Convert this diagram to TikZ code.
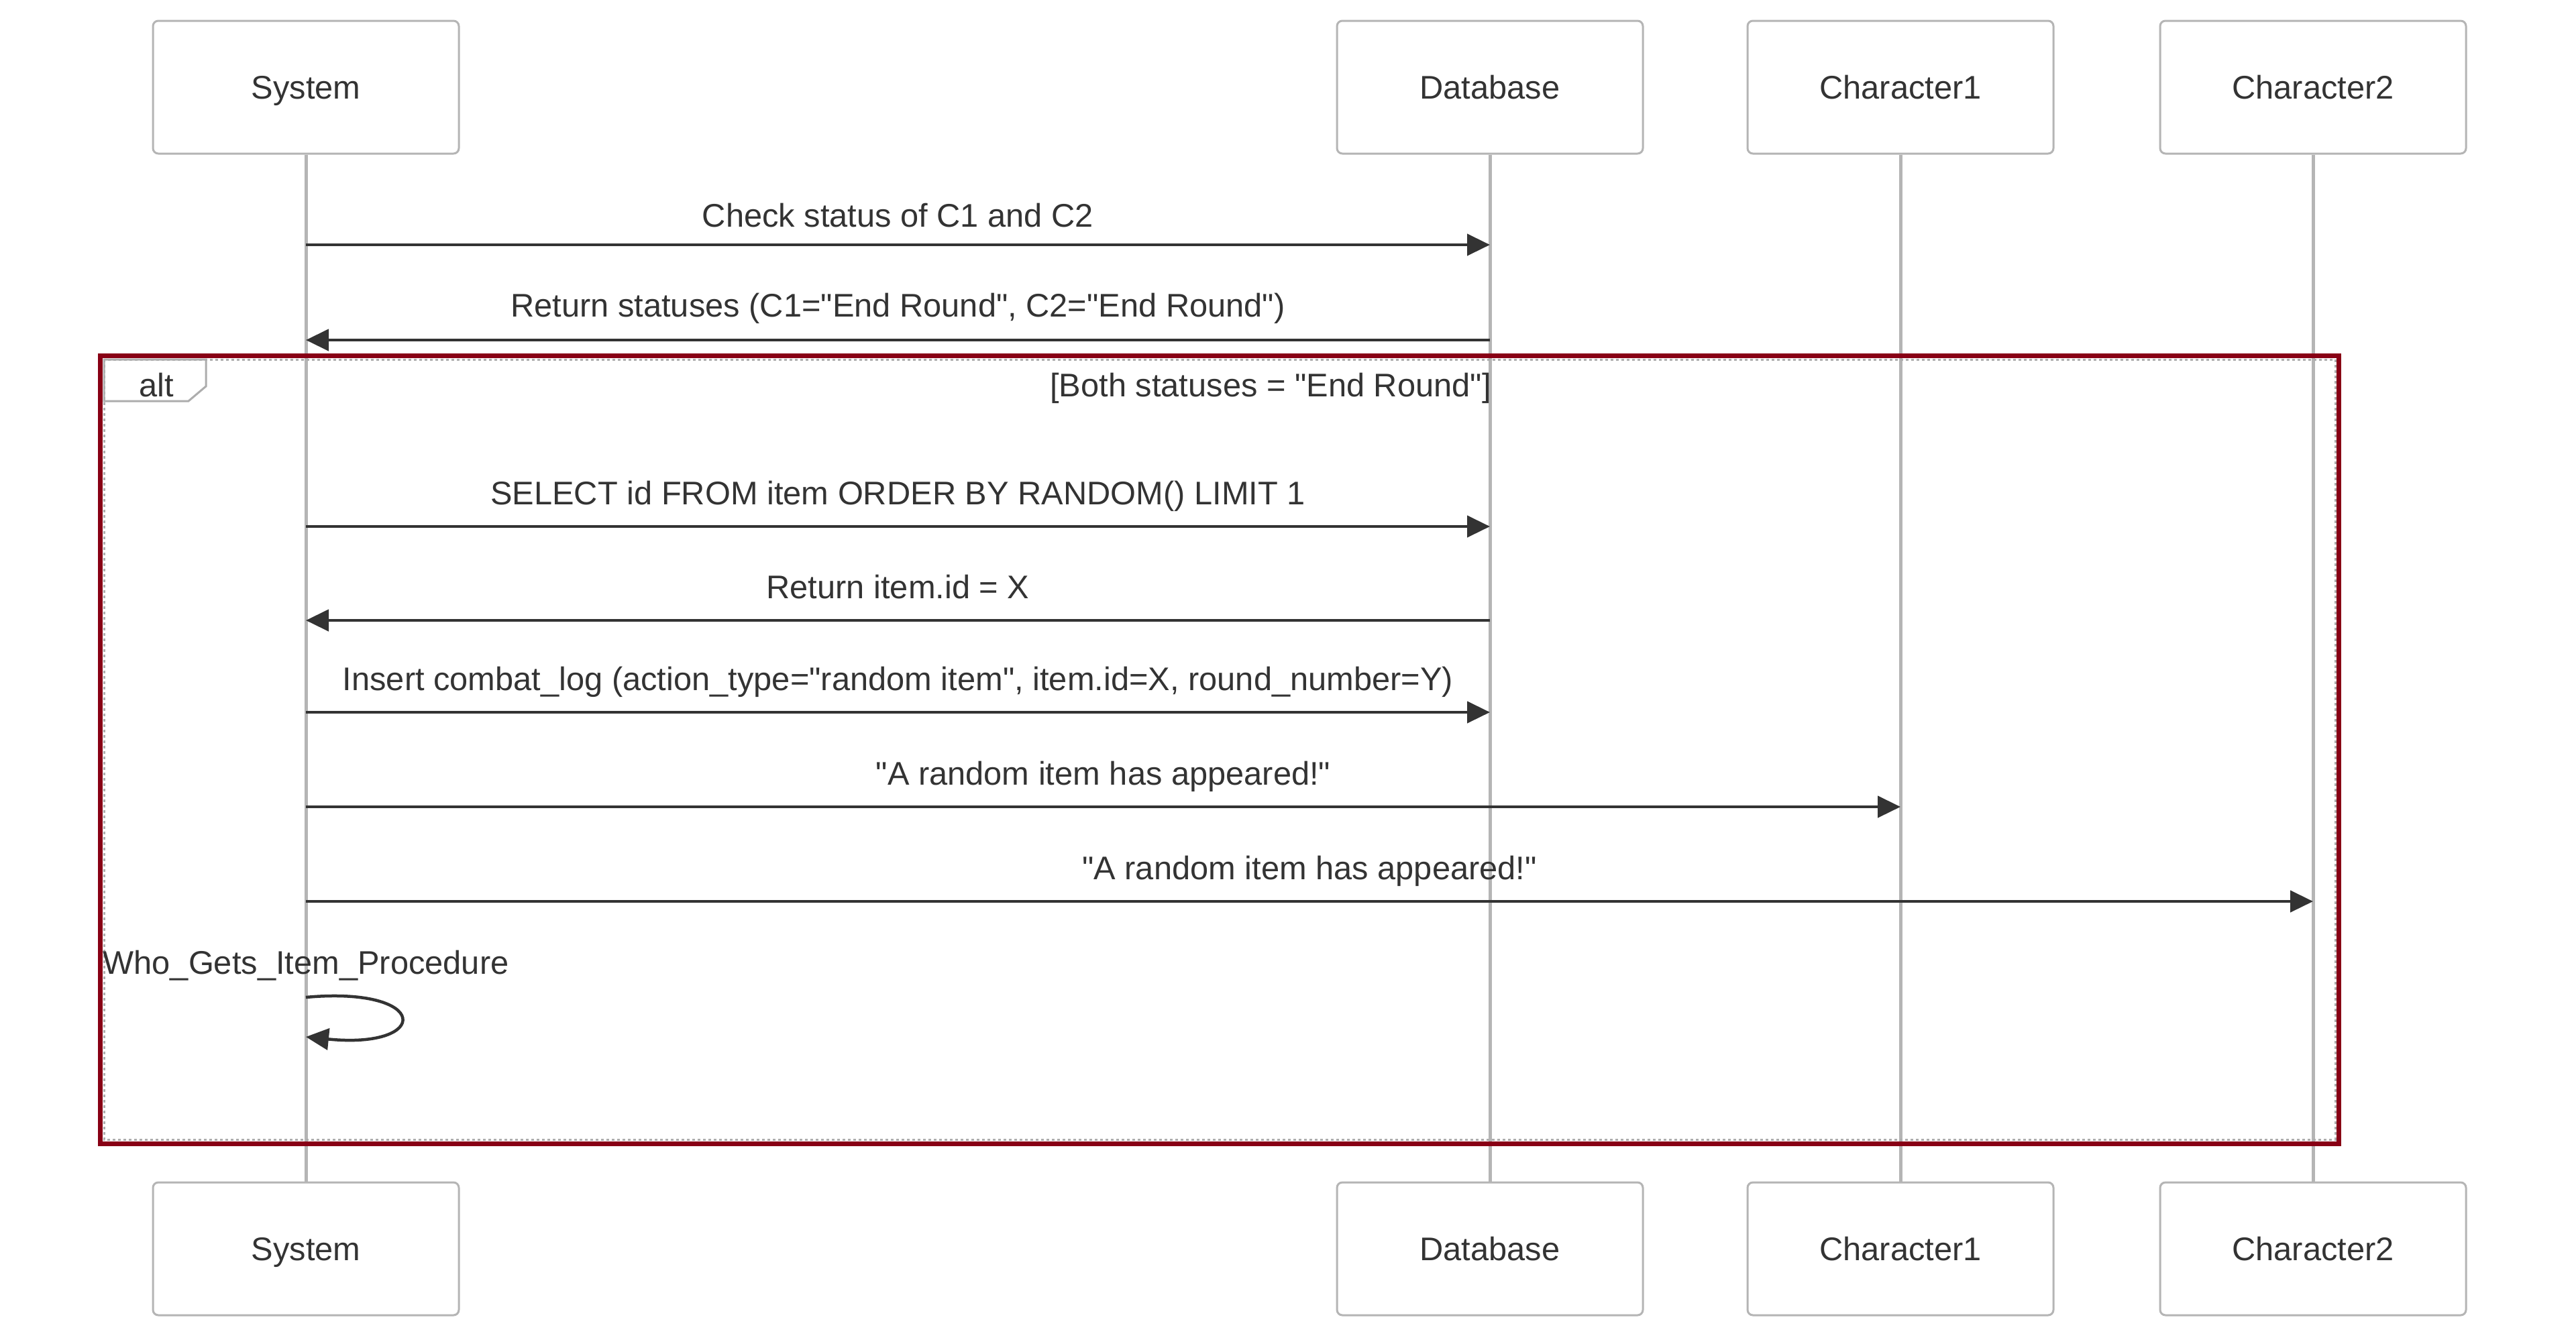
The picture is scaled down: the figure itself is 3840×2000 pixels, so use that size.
\documentclass[tikz,border=0pt]{standalone}
\usepackage{fontspec}
\setmainfont{Liberation Sans}
\usetikzlibrary{arrows.meta}

\definecolor{ink}{HTML}{333333}
\definecolor{lifegray}{HTML}{B5B5B5}
\definecolor{framegray}{HTML}{ADADAD}
\definecolor{altred}{RGB}{136,0,21}
\newcommand{\bigfont}{\fontsize{48.8}{58}\selectfont}
\newcommand{\dq}{\textquotedbl}

\tikzset{
  txt/.style={text=ink, font=\bigfont, inner sep=0pt},
  actor/.style={draw=lifegray, line width=3pt, rounded corners=8pt, fill=white,
    minimum width=456pt, minimum height=198pt, text=ink, font=\bigfont,
    text height=35pt, text depth=0pt},
  life/.style={draw=lifegray, line width=5pt},
  msg/.style={draw=ink, line width=4.5pt, -{Triangle[length=34pt,width=32pt]}},
  lbl/.style={txt, anchor=base, yshift=33pt},
}

\begin{document}
\begin{tikzpicture}[x=1pt,y=-1pt]
\fill[white] (0,0) rectangle (3840,2000);
\useasboundingbox (0,0) rectangle (3840,2000);

% participants
\node[actor] (sysTop) at (456,130) {System};
\node[actor] (dbTop) at (2221,130) {Database};
\node[actor] (cOneTop) at (2833,130) {Character1};
\node[actor] (cTwoTop) at (3448,130) {Character2};
\node[actor] (sysBot) at (456,1862) {System};
\node[actor] (dbBot) at (2221,1862) {Database};
\node[actor] (cOneBot) at (2833,1862) {Character1};
\node[actor] (cTwoBot) at (3448,1862) {Character2};

\draw[life] (sysTop) -- (sysBot);
\draw[life] (dbTop) -- (dbBot);
\draw[life] (cOneTop) -- (cOneBot);
\draw[life] (cTwoTop) -- (cTwoBot);

% alt frame
\draw[altred, line width=7pt] (149,530) rectangle (3486,1705);
\draw[framegray, line width=3pt, dash pattern=on 4pt off 4pt] (155,536) rectangle (3481,1699);
\draw[framegray, line width=3pt] (155,536) -- (307,536) -- (307,576) -- (281,598) -- (155,598) -- cycle;
\node[txt, anchor=base] (altLbl) at (233,591) {alt};
\node[txt, anchor=base] (condLbl) at (1894,591) {[Both statuses = \dq End Round\dq]};

% messages
\draw[msg] (sysTop |- 0,365) -- node[lbl, yshift=-6pt] {Check status of C1 and C2} (dbTop |- 0,365);
\draw[msg] (dbTop |- 0,507) -- node[lbl, yshift=2pt] {Return statuses (C1=\dq End Round\dq, C2=\dq End Round\dq)} (sysTop |- 0,507);
\draw[msg] (sysTop |- 0,785) -- node[lbl] {SELECT id FROM item ORDER BY RANDOM() LIMIT 1} (dbTop |- 0,785);
\draw[msg] (dbTop |- 0,925) -- node[lbl] {Return item.id = X} (sysTop |- 0,925);
\draw[msg] (sysTop |- 0,1062) -- node[lbl] {Insert combat\_log (action\_type=\dq random item\dq, item.id=X, round\_number=Y)} (dbTop |- 0,1062);
\draw[msg] (sysTop |- 0,1203) -- node[lbl] {\dq A random item has appeared!\dq} (cOneTop |- 0,1203);
\draw[msg] (sysTop |- 0,1344) -- node[lbl] {\dq A random item has appeared!\dq} (cTwoTop |- 0,1344);

% self call
\node[txt, anchor=base] (selfLbl) at (sysTop |- 0,1452) {Who\_Gets\_Item\_Procedure};
\coordinate (selfA) at (sysTop |- 0,1487);
\coordinate (selfB) at (sysTop |- 0,1546);
\draw[msg] (selfA) .. controls (643,1470) and (643,1565) .. (selfB);
\end{tikzpicture}
\end{document}
